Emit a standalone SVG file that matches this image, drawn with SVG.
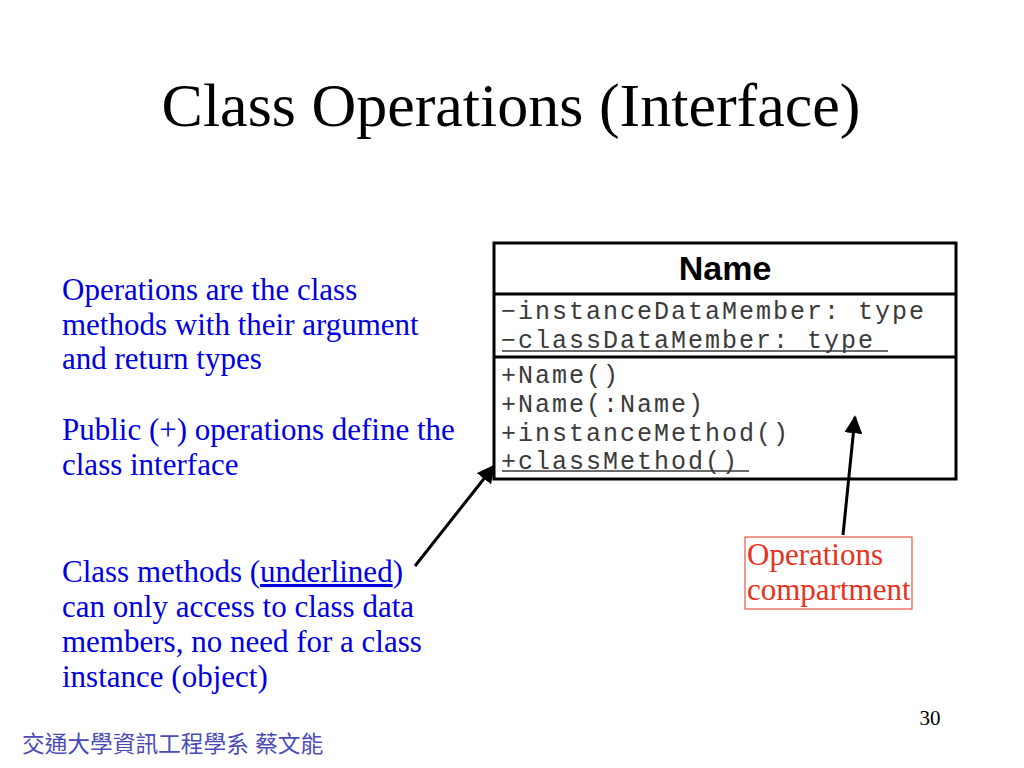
<svg xmlns="http://www.w3.org/2000/svg" width="1024" height="768" viewBox="0 0 1024 768">
<style>
.title{font-family:"Liberation Serif",serif;font-size:62px;fill:#000}
.blue{font-family:"Liberation Serif",serif;font-size:31px;fill:#0000e0}
.red{font-family:"Liberation Serif",serif;font-size:31px;fill:#e8321c}
.mono{font-family:"Liberation Mono",monospace;font-size:25px;letter-spacing:2px;fill:#3a3a3a}
.hdr{font-family:"Liberation Sans",sans-serif;font-size:34px;font-weight:bold;fill:#000}
.box{fill:#fff;stroke:#000;stroke-width:3}
.conn{stroke:#000;stroke-width:3;fill:none}
</style>
<defs>
<marker id="ah" viewBox="0 0 10 10" refX="9" refY="5" markerWidth="6" markerHeight="6" orient="auto" markerUnits="strokeWidth">
<path d="M0,0 L10,5 L0,10 z" fill="#000"/>
</marker>
</defs>
<rect width="1024" height="768" fill="#fff"/>
<text class="title" x="511" y="126" text-anchor="middle">Class Operations (Interface)</text>
<g id="desc">
<text class="blue" x="62" y="300">Operations are the class</text>
<text class="blue" x="62" y="335">methods with their argument</text>
<text class="blue" x="62" y="369">and return types</text>
<text class="blue" x="62" y="440">Public (+) operations define the</text>
<text class="blue" x="62" y="475">class interface</text>
<text class="blue" x="62" y="582">Class methods (<tspan text-decoration="underline">underlined</tspan>)</text>
<text class="blue" x="62" y="617">can only access to class data</text>
<text class="blue" x="62" y="652">members, no need for a class</text>
<text class="blue" x="62" y="687">instance (object)</text>
</g>
<g id="class-name">
<rect class="box" x="494" y="243" width="462" height="236"/>
<line x1="494" y1="294" x2="956" y2="294" stroke="#000" stroke-width="3"/>
<line x1="494" y1="357" x2="956" y2="357" stroke="#000" stroke-width="3"/>
<text class="hdr" x="725" y="280" text-anchor="middle">Name</text>
<text class="mono" x="501" y="319">−instanceDataMember: type</text>
<text class="mono" x="501" y="348">−classDataMember: type</text>
<line x1="502" y1="351" x2="888" y2="351" stroke="#3a3a3a" stroke-width="1.5"/>
<text class="mono" x="501" y="383">+Name()</text>
<text class="mono" x="501" y="412">+Name(:Name)</text>
<text class="mono" x="501" y="441">+instanceMethod()</text>
<text class="mono" x="501" y="469">+classMethod()</text>
<line x1="502" y1="471" x2="749" y2="471" stroke="#3a3a3a" stroke-width="1.5"/>
</g>
<g id="ops-label">
<rect x="745" y="537" width="167" height="72" fill="#fff" stroke="#e8321c" stroke-width="1"/>
<text class="red" x="747" y="565">Operations</text>
<text class="red" x="747" y="600">compartment</text>
</g>
<g id="connectors">
<line class="conn" x1="415" y1="566" x2="494" y2="466" marker-end="url(#ah)"/>
<line class="conn" x1="843" y1="535" x2="855" y2="417" marker-end="url(#ah)"/>
</g>
<text x="930" y="725" text-anchor="middle" style="font-family:'Liberation Serif',serif;font-size:21px;fill:#000">30</text>
<text x="22" y="752" style="font-family:'Liberation Sans','Noto Sans CJK TC',sans-serif;font-size:22.7px;fill:#4a4ab8">交通大學資訊工程學系 蔡文能</text>
</svg>
